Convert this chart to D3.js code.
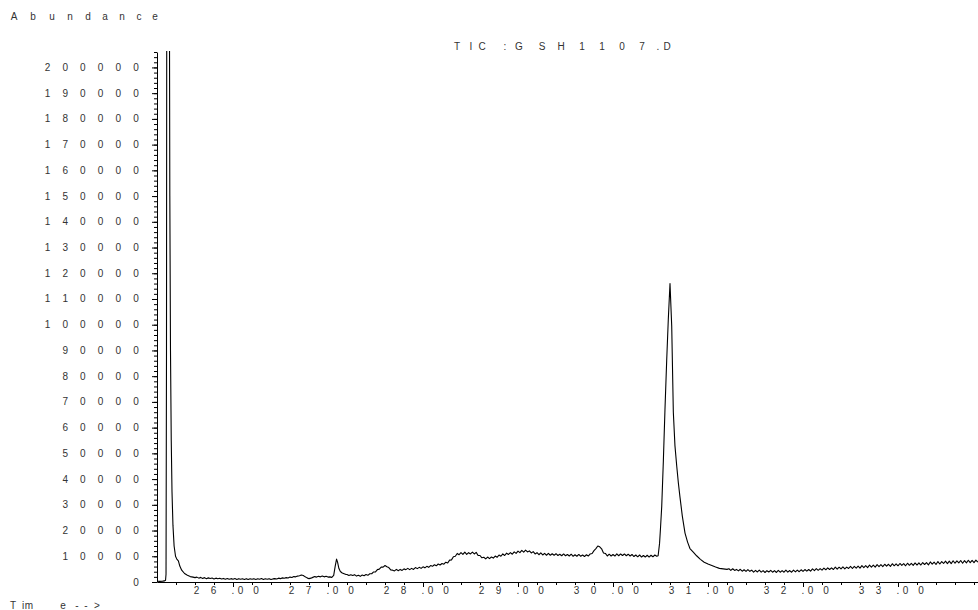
<!DOCTYPE html>
<html><head><meta charset="utf-8">
<script src="https://cdn.jsdelivr.net/npm/d3@7"></script>
<style>
html,body{margin:0;padding:0;background:#fff;}
svg{display:block;}
text{font-family:"Liberation Sans",Arial,sans-serif;font-size:10px;fill:#333;}
</style>
</head><body>
<svg id="chart" width="978" height="610"></svg>
<script>
// ---- texts ----
const titleText = "TIC: GSH1107.D";
const yAxisTitle = "Abundance";
const xAxisTitle = "Time-->";

// ---- ticks ----
const yMajorTicks = d3.range(0, 200001, 10000);
const yMinorTicks = d3.range(0, 206001, 2000);
const xMajorTicks = [26, 27, 28, 29, 30, 31, 32, 33];
const xMinorTicks = d3.range(25.4, 33.85, 0.2);

// ---- signal: [retention time (min), abundance] ----
const solventFront = [
 [25.20,300],[25.23,250],[25.26,350],[25.28,450],[25.29,700],[25.295,3000],
 [25.300,90000],[25.304,300000],[25.318,420000],[25.329,260000],[25.335,150000],
 [25.342,90000],[25.350,55000],[25.358,35000],[25.368,22000],[25.380,14000],
 [25.395,10000],[25.410,8800],[25.425,8200],[25.440,6200],[25.460,4600],
 [25.490,3300],[25.520,2600],[25.550,2100],[25.580,1900]
];
const earlyBaseline = [
 [25.60,1700],[25.62,1900],[25.64,1500],[25.66,1800],[25.68,1400],[25.70,1700],
 [25.72,1300],[25.74,1600],[25.76,1350],[25.78,1550],[25.80,1200],[25.82,1500],
 [25.84,1250],[25.86,1450],[25.88,1150],[25.90,1400],[25.92,1100],[25.94,1350],
 [25.96,1050],[25.98,1300],[26.00,1100],[26.02,1350],[26.04,1000],[26.06,1300],
 [26.08,1050],[26.10,1250],[26.12,1000],[26.14,1300],[26.16,950],[26.18,1250],
 [26.20,1050],[26.22,1300],[26.24,1000],[26.26,1250],[26.28,1050],[26.30,1350],
 [26.32,1000],[26.34,1250],[26.36,1050],[26.38,1300],[26.40,1000],[26.42,1200],
 [26.44,1300],[26.46,1150],[26.48,1500],[26.50,1300],[26.52,1600],[26.54,1450],
 [26.56,1700],[26.58,1550],[26.60,1900],[26.62,1750],[26.64,2100],[26.66,2000],
 [26.68,2300],[26.70,2400],[26.72,2700],[26.74,2500],[26.76,2000],[26.78,1600],
 [26.80,1300],[26.82,1500],[26.84,1800],[26.86,2100],[26.88,1900],[26.90,2200],
 [26.92,2000],[26.94,2300],[26.96,2000],[26.98,2200],[27.00,1900],[27.02,2000],
 [27.04,1800]
];
const earlyPeak = [
 [27.06,2600],[27.075,6000],[27.09,8900],[27.10,7800],[27.115,5200],[27.13,4100],
 [27.15,3500],[27.17,3200],[27.19,2900]
];
const midBaseline = [
 [27.20,2900],[27.22,2500],[27.24,2800],[27.26,2500],[27.28,2850],[27.30,2300],
 [27.32,2600],[27.34,2200],[27.36,2700],[27.38,2450],[27.40,2900],[27.42,2600],
 [27.44,3200],[27.46,3200],[27.48,3900],[27.50,3900],[27.52,4800],[27.54,5000],
 [27.56,5800],[27.58,5800],[27.60,6400],[27.62,5900],[27.64,5600],[27.66,4700],
 [27.68,4600],[27.70,4300],[27.72,4900],[27.74,4400],[27.76,4900],[27.78,4500],
 [27.80,5100],[27.82,4800],[27.84,5300],[27.86,4800],[27.88,5300],[27.90,4900],
 [27.92,5600],[27.94,5200],[27.96,5700],[27.98,5300],[28.00,5900],[28.02,5500],
 [28.04,6100],[28.06,5700],[28.08,6400],[28.10,6100],[28.12,6700],[28.14,6300],
 [28.16,7000],[28.18,6600],[28.20,7200],[28.22,6900],[28.24,7700],[28.26,7400],
 [28.28,8500],[28.30,8600],[28.32,9800],[28.34,10000],[28.36,11100],[28.38,10600],
 [28.40,11400],[28.42,10700],[28.44,11600],[28.46,10700],[28.48,11400],[28.50,10900],
 [28.52,11600],[28.54,10900],[28.56,11500],[28.58,10300],[28.60,10300],[28.62,9400],
 [28.64,9600],[28.66,9000],[28.68,9700],[28.70,9100],[28.72,9700],[28.74,9300],
 [28.76,10100],[28.78,9600],[28.80,10500],[28.82,10000],[28.84,10900],[28.86,10300],
 [28.88,11200],[28.90,10700],[28.92,11400],[28.94,10800],[28.96,11700],[28.98,11100],
 [29.00,12000],[29.02,11400],[29.04,12300],[29.06,11600],[29.08,12400],[29.10,11700],
 [29.12,12100],[29.14,11300],[29.16,11800],[29.18,10900],[29.20,11400],[29.22,10600],
 [29.24,11300],[29.26,10500],[29.28,11100],[29.30,10400],[29.32,11100],[29.34,10400],
 [29.36,11000],[29.38,10400],[29.40,11000],[29.42,10300],[29.44,10800],[29.46,10200],
 [29.48,10900],[29.50,10200],[29.52,10700],[29.54,10100],[29.56,10800],[29.58,10000],
 [29.60,10600],[29.62,10000],[29.64,10700],[29.66,10000],[29.68,10500],[29.70,9900],
 [29.72,10600],[29.74,10100],[29.76,10900],[29.78,11100],[29.80,12200],[29.82,13000],
 [29.84,14000],[29.86,13700],[29.88,12900],[29.90,11300],[29.92,11100],[29.94,10100],
 [29.96,10800],[29.98,10100],[30.00,10700],[30.02,10100],[30.04,10900],[30.06,10200],
 [30.08,10900],[30.10,10300],[30.12,10900],[30.14,10200],[30.16,10800],[30.18,10100],
 [30.20,10700],[30.22,9900],[30.24,10500],[30.26,9800],[30.28,10500],[30.30,9700],
 [30.32,10300],[30.34,9700],[30.36,10400],[30.38,9700],[30.40,10400],[30.42,9800],
 [30.44,10500],[30.46,10000]
];
const mainPeak = [
 [30.475,10200],[30.49,15000],[30.50,21000],[30.513,29500],[30.53,47000],
 [30.547,67000],[30.565,86000],[30.582,102000],[30.60,116000],[30.618,99500],
 [30.635,66000],[30.652,53000],[30.671,45000],[30.688,38500],[30.705,33000],
 [30.73,25500],[30.758,19000],[30.785,15500],[30.81,13000],[30.845,11600],
 [30.88,10200],[30.92,8800],[30.96,7700],[31.00,7000],[31.04,6400],[31.08,5800],
 [31.12,5300],[31.16,5100],[31.20,4900]
];
const lateBaseline = [
 [31.22,5150],[31.24,4500],[31.26,5150],[31.28,4500],[31.30,4900],[31.32,4300],
 [31.34,4950],[31.36,4200],[31.38,4750],[31.40,4100],[31.42,4800],[31.44,4150],
 [31.46,4600],[31.48,3850],[31.50,4500],[31.52,3900],[31.54,4600],[31.56,3850],
 [31.58,4400],[31.60,3700],[31.62,4400],[31.64,3900],[31.66,4500],[31.68,3800],
 [31.70,4400],[31.72,3700],[31.74,4500],[31.76,3800],[31.78,4400],[31.80,3800],
 [31.82,4600],[31.84,3850],[31.86,4450],[31.88,3800],[31.90,4600],[31.92,3950],
 [31.94,4600],[31.96,4000],[31.98,4750],[32.00,4100],[32.02,4850],[32.04,4200],
 [32.06,4850],[32.08,4200],[32.10,5100],[32.12,4450],[32.14,5200],[32.16,4550],
 [32.18,5200],[32.20,4600],[32.22,5400],[32.24,4750],[32.26,5500],[32.28,4850],
 [32.30,5500],[32.32,4850],[32.34,5800],[32.36,5000],[32.38,5750],[32.40,5100],
 [32.42,5850],[32.44,5100],[32.46,5800],[32.48,5250],[32.50,6100],[32.52,5250],
 [32.54,6100],[32.56,5400],[32.58,6150],[32.60,5400],[32.62,6350],[32.64,5600],
 [32.66,6350],[32.68,5600],[32.70,6600],[32.72,5800],[32.74,6550],[32.76,5800],
 [32.78,6750],[32.80,6000],[32.82,6750],[32.84,6000],[32.86,6900],[32.88,6150],
 [32.90,6900],[32.92,6050],[32.94,7100],[32.96,6300],[32.98,7050],[33.00,6300],
 [33.02,7200],[33.04,6450],[33.06,7150],[33.08,6300],[33.10,7300],[33.12,6500],
 [33.14,7250],[33.16,6450],[33.18,7400],[33.20,6600],[33.22,7450],[33.24,6600],
 [33.26,7550],[33.28,6800],[33.30,7500],[33.32,6650],[33.34,7800],[33.36,6950],
 [33.38,7700],[33.40,6800],[33.42,7950],[33.44,7000],[33.46,7950],[33.48,7200],
 [33.50,8100],[33.52,7150],[33.54,8100],[33.56,7150],[33.58,8250],[33.60,7300],
 [33.62,8200],[33.64,7450],[33.66,8350],[33.68,7300],[33.70,8300],[33.72,7450],
 [33.74,8450],[33.76,7500],[33.78,8400],[33.80,7550],[33.82,8500],[33.84,7700]
];
const signal = [].concat(solventFront, earlyBaseline, earlyPeak, midBaseline, mainPeak, lateBaseline);

(function draw() {
  const svg = d3.select("#chart");
  const plotLeft = 157, plotRight = 978, plotTop = 52, plotBottom = 582;

  const x = d3.scaleLinear().domain([25.2, 33.842]).range([plotLeft, plotRight]);
  const y = d3.scaleLinear().domain([0, 206000]).range([plotBottom, plotTop]);

  svg.append("defs").append("clipPath").attr("id", "plotclip")
    .append("rect").attr("x", plotLeft).attr("y", plotTop - 1)
    .attr("width", plotRight - plotLeft).attr("height", plotBottom - plotTop + 1);

  function charText(str, centers, yBase) {
    svg.append("text")
      .attr("x", centers.join(" "))
      .attr("y", yBase)
      .attr("text-anchor", "middle")
      .text(str);
  }

  // y axis
  svg.append("g").attr("transform", `translate(${plotLeft},0)`)
    .call(d3.axisLeft(y).tickValues(yMinorTicks).tickSize(3).tickSizeOuter(0).tickFormat(""));
  const yMajorG = svg.append("g").attr("transform", `translate(${plotLeft},0)`)
    .call(d3.axisLeft(y).tickValues(yMajorTicks).tickSize(5).tickSizeOuter(0).tickFormat(""));
  yMajorG.select(".domain").remove();

  // x axis
  svg.append("g").attr("transform", `translate(0,${plotBottom})`)
    .call(d3.axisBottom(x).tickValues(xMinorTicks).tickSize(3).tickSizeOuter(0).tickFormat(""));
  const xMajorG = svg.append("g").attr("transform", `translate(0,${plotBottom})`)
    .call(d3.axisBottom(x).tickValues(xMajorTicks).tickSize(5).tickSizeOuter(0).tickFormat(""));
  xMajorG.select(".domain").remove();

  svg.selectAll(".domain, .tick line").attr("stroke", "#000").attr("stroke-width", 1);

  // y labels
  yMajorTicks.forEach(v => {
    const s = String(v);
    const n = s.length;
    const centers = s.split("").map((c, i) => 136 - (n - 1 - i) * 17.7);
    charText(s, centers, y(v) + 3.5);
  });

  // x labels
  const xCharOffsets = [-37, -20, -0.5, 7, 22.5];
  xMajorTicks.forEach(t => {
    const s = t.toFixed(2);
    const tx = x(t) + 0.5;
    charText(s, xCharOffsets.map(o => tx + o), 594);
  });

  // titles
  charText(yAxisTitle, [14, 33, 52, 70, 88, 105, 122, 139, 155], 19.5);
  charText(xAxisTitle, [13, 23, 29, 63, 77, 86, 97], 608.5);
  charText(titleText, [457, 471, 482, 505, 511, 519, 542, 561, 582, 602, 622, 642, 658, 667], 49.5);

  // trace
  const line = d3.line().x(d => x(d[0])).y(d => y(d[1]));
  svg.append("path")
    .datum(signal)
    .attr("clip-path", "url(#plotclip)")
    .attr("fill", "none")
    .attr("stroke", "#000")
    .attr("stroke-width", 1.1)
    .attr("stroke-linejoin", "round")
    .attr("d", line);
})();
</script>
</body></html>
